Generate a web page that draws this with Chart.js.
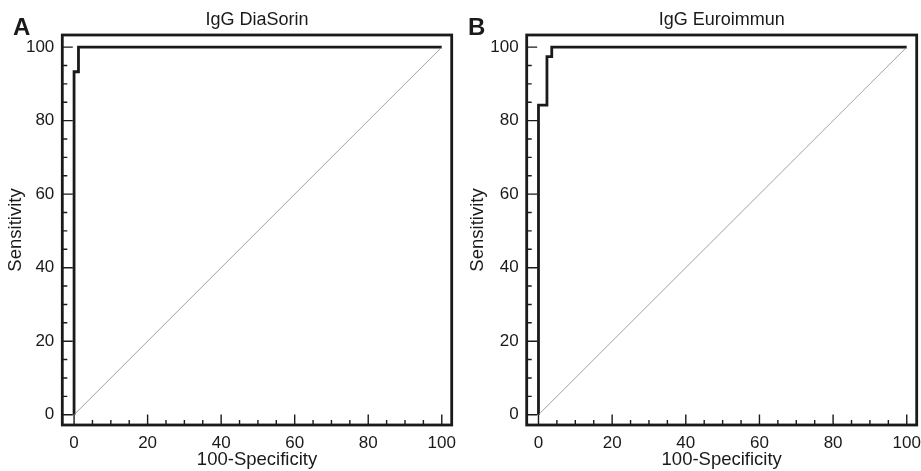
<!DOCTYPE html>
<html>
<head>
<meta charset="utf-8">
<script src="https://cdn.jsdelivr.net/npm/chart.js@4.4.1/dist/chart.umd.min.js"></script>
<style>
  body { margin: 0; background: #fff; }
  .panel { position: absolute; top: 0; height: 471px; }
  #panelA { left: 0; width: 462px; }
  #panelB { left: 462px; width: 459px; }
</style>
</head>
<body>
<div id="panelA" class="panel"><canvas id="chartA"></canvas></div>
<div id="panelB" class="panel"><canvas id="chartB"></canvas></div>
<script>
// ROC corner points (100-specificity, sensitivity)
const fprA = [0, 0, 1.2, 1.2, 100];
const sensA = [0, 93.3, 93.3, 100, 100];
const fprB = [0, 0, 2.3, 2.3, 3.6, 3.6, 100];
const sensB = [0, 84.2, 84.2, 97.4, 97.4, 100, 100];
const refLine = [0, 100];
const tickLabels = [0, 20, 40, 60, 80, 100];
const minorStep = 5;

const ink = "#1a1a1a";
const fontFamily = "'Liberation Sans', Arial, Helvetica, sans-serif";
Chart.defaults.font.family = fontFamily;
Chart.defaults.color = ink;

// box around the plot, inward tick marks and the panel letter
const frameTicks = {
    id: "frameTicks",
    afterDraw(chart, args, opts) {
        const { ctx, chartArea: a, scales: { x, y } } = chart;
        ctx.save();
        ctx.strokeStyle = ink;
        ctx.lineWidth = 1.4;
        ctx.beginPath();
        for (let v = 0; v <= 100; v += minorStep) {
            const len = tickLabels.includes(v) ? 10.5 : 5;
            const px = x.getPixelForValue(v);
            ctx.moveTo(px, a.bottom);
            ctx.lineTo(px, a.bottom - len);
            const py = y.getPixelForValue(v);
            ctx.moveTo(a.left, py);
            ctx.lineTo(a.left + len, py);
        }
        ctx.stroke();
        ctx.lineWidth = 2.8;
        ctx.strokeRect(a.left, a.top, a.right - a.left, a.bottom - a.top);
        ctx.fillStyle = ink;
        ctx.font = "bold 24px " + fontFamily;
        ctx.textBaseline = "alphabetic";
        ctx.fillText(opts.letter, opts.letterX, 35);
        ctx.restore();
    }
};

function makeChart(id, title, letter, letterX, fpr, sens, axisWidth, rightPad) {
    return new Chart(document.getElementById(id), {
        type: "scatter",
        data: {
            datasets: [
                {
                    label: "Reference",
                    data: refLine.map((v) => ({ x: v, y: v })),
                    showLine: true,
                    borderColor: "#8a8a8a",
                    borderWidth: 0.8,
                    pointRadius: 0
                },
                {
                    label: "ROC",
                    data: fpr.map((v, i) => ({ x: v, y: sens[i] })),
                    showLine: true,
                    borderColor: ink,
                    borderWidth: 2.8,
                    borderJoinStyle: "miter",
                    borderCapStyle: "butt",
                    pointRadius: 0
                }
            ]
        },
        options: {
            responsive: true,
            maintainAspectRatio: false,
            animation: false,
            layout: { padding: { left: 0, right: rightPad, top: 0, bottom: 0 } },
            plugins: {
                legend: { display: false },
                tooltip: { enabled: false },
                title: {
                    display: true,
                    text: title,
                    fullSize: false,
                    color: ink,
                    font: { size: 18, weight: "normal" },
                    padding: { top: 9.5, bottom: 3.9 }
                },
                frameTicks: { letter: letter, letterX: letterX }
            },
            scales: {
                x: {
                    type: "linear",
                    min: -3.2,
                    max: 102.7,
                    afterBuildTicks: (s) => { s.ticks = tickLabels.map((v) => ({ value: v })); },
                    afterFit: (s) => { s.height = 46; s.paddingLeft = 0; s.paddingRight = 0; },
                    grid: { display: false, drawTicks: false },
                    border: { display: false },
                    ticks: { padding: 8, color: ink, font: { size: 17 }, autoSkip: false, maxRotation: 0 },
                    title: {
                        display: true,
                        text: "100-Specificity",
                        color: ink,
                        font: { size: 18.5 },
                        padding: { top: 0, bottom: 0 }
                    }
                },
                y: {
                    type: "linear",
                    min: -2.8,
                    max: 103.3,
                    afterBuildTicks: (s) => { s.ticks = tickLabels.map((v) => ({ value: v })); },
                    afterFit: (s) => { s.width = axisWidth; s.paddingTop = 0; s.paddingBottom = 0; },
                    grid: { display: false, drawTicks: false },
                    border: { display: false },
                    ticks: { padding: 8, color: ink, font: { size: 17 }, autoSkip: false },
                    title: {
                        display: true,
                        text: "Sensitivity",
                        color: ink,
                        font: { size: 18.5 },
                        padding: { top: 5, bottom: 0 }
                    }
                }
            }
        },
        plugins: [frameTicks]
    });
}

makeChart("chartA", "IgG DiaSorin", "A", 13, fprA, sensA, 62.3, 10.3);
makeChart("chartB", "IgG Euroimmun", "B", 6, fprB, sensB, 64.7, 4.3);
</script>
</body>
</html>
